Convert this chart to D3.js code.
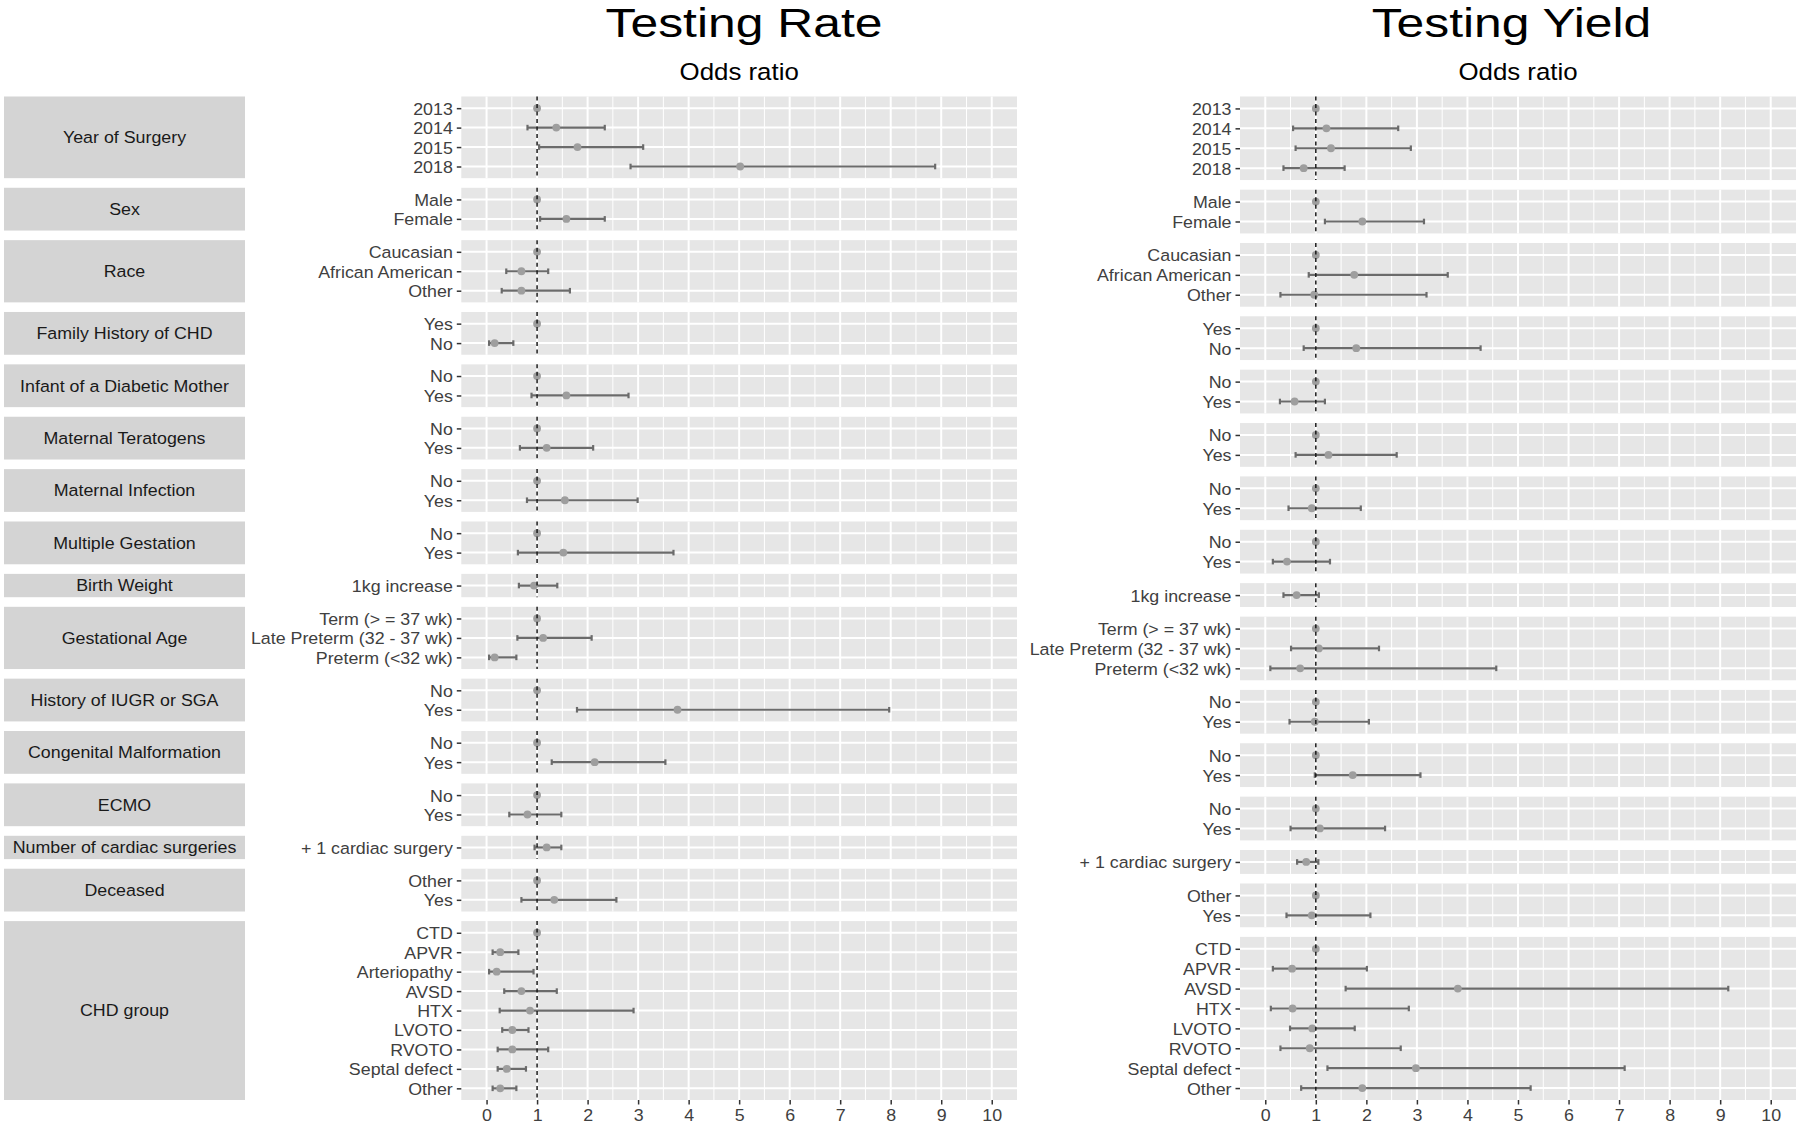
<!DOCTYPE html>
<html>
<head>
<meta charset="utf-8">
<script src="https://cdn.jsdelivr.net/npm/d3@7"></script>
<style>
  html, body { margin: 0; padding: 0; background: #ffffff; }
  svg { display: block; font-family: "Liberation Sans", Arial, Helvetica, sans-serif; }
</style>
</head>
<body>
<svg id="chart" width="1800" height="1127"></svg>
<script>
// ---------- DATA ----------
const facetNames = ["Year of Surgery", "Sex", "Race", "Family History of CHD",
  "Infant of a Diabetic Mother", "Maternal Teratogens", "Maternal Infection",
  "Multiple Gestation", "Birth Weight", "Gestational Age", "History of IUGR or SGA",
  "Congenital Malformation", "ECMO", "Number of cardiac surgeries", "Deceased", "CHD group"];

const xTicks = [0, 1, 2, 3, 4, 5, 6, 7, 8, 9, 10];

// Testing Rate
const rateLabels = ["2013", "2014", "2015", "2018", "Male", "Female",
  "Caucasian", "African American", "Other", "Yes", "No", "No", "Yes", "No", "Yes",
  "No", "Yes", "No", "Yes", "1kg increase",
  "Term (> = 37 wk)", "Late Preterm (32 - 37 wk)", "Preterm (<32 wk)",
  "No", "Yes", "No", "Yes", "No", "Yes", "+ 1 cardiac surgery", "Other", "Yes",
  "CTD", "APVR", "Arteriopathy", "AVSD", "HTX", "LVOTO", "RVOTO", "Septal defect", "Other"];
const rateFacet = [0, 0, 0, 0, 1, 1, 2, 2, 2, 3, 3, 4, 4, 5, 5, 6, 6, 7, 7, 8, 9, 9, 9,
  10, 10, 11, 11, 12, 12, 13, 14, 14, 15, 15, 15, 15, 15, 15, 15, 15, 15];
const rateOR = [1, 1.38, 1.80, 5.02, 1, 1.58, 1, 0.69, 0.69, 1, 0.16, 1, 1.58, 1, 1.19,
  1, 1.55, 1, 1.52, 0.94, 1, 1.12, 0.16, 1, 3.78, 1, 2.14, 1, 0.81, 1.19, 1, 1.34,
  1, 0.27, 0.20, 0.69, 0.86, 0.51, 0.51, 0.40, 0.27];
const rateLow = [null, 0.81, 1.04, 2.85, null, 1.06, null, 0.39, 0.30, null, 0.05, null, 0.89,
  null, 0.66, null, 0.80, null, 0.62, 0.64, null, 0.61, 0.05, null, 1.79, null, 1.29,
  null, 0.45, 0.95, null, 0.69, null, 0.12, 0.05, 0.35, 0.26, 0.31, 0.22, 0.22, 0.12];
const rateHigh = [null, 2.34, 3.10, 8.88, null, 2.34, null, 1.22, 1.65, null, 0.53, null, 2.81,
  null, 2.11, null, 2.99, null, 3.70, 1.40, null, 2.08, 0.59, null, 7.97, null, 3.54,
  null, 1.48, 1.48, null, 2.57, null, 0.63, 0.93, 1.39, 2.91, 0.83, 1.22, 0.78, 0.59];

// Testing Yield
const yieldLabels = ["2013", "2014", "2015", "2018", "Male", "Female",
  "Caucasian", "African American", "Other", "Yes", "No", "No", "Yes", "No", "Yes",
  "No", "Yes", "No", "Yes", "1kg increase",
  "Term (> = 37 wk)", "Late Preterm (32 - 37 wk)", "Preterm (<32 wk)",
  "No", "Yes", "No", "Yes", "No", "Yes", "+ 1 cardiac surgery", "Other", "Yes",
  "CTD", "APVR", "AVSD", "HTX", "LVOTO", "RVOTO", "Septal defect", "Other"];
const yieldFacet = [0, 0, 0, 0, 1, 1, 2, 2, 2, 3, 3, 4, 4, 5, 5, 6, 6, 7, 7, 8, 9, 9, 9,
  10, 10, 11, 11, 12, 12, 13, 14, 14, 15, 15, 15, 15, 15, 15, 15, 15];
const yieldOR = [1, 1.21, 1.30, 0.76, 1, 1.92, 1, 1.76, 0.97, 1, 1.80, 1, 0.58, 1, 1.25,
  1, 0.92, 1, 0.43, 0.62, 1, 1.06, 0.69, 1, 0.98, 1, 1.73, 1, 1.08, 0.81, 1, 0.92,
  1, 0.53, 3.81, 0.54, 0.93, 0.88, 2.98, 1.92];
const yieldLow = [null, 0.55, 0.60, 0.36, null, 1.18, null, 0.86, 0.30, null, 0.76, null, 0.29,
  null, 0.60, null, 0.46, null, 0.15, 0.36, null, 0.51, 0.10, null, 0.48, null, 0.98,
  null, 0.50, 0.63, null, 0.42, null, 0.15, 1.59, 0.11, 0.49, 0.30, 1.23, 0.71];
const yieldHigh = [null, 2.63, 2.88, 1.57, null, 3.14, null, 3.61, 3.19, null, 4.26, null, 1.18,
  null, 2.60, null, 1.89, null, 1.28, 1.06, null, 2.25, 4.57, null, 2.05, null, 3.07,
  null, 2.37, 1.05, null, 2.08, null, 2.01, 9.16, 2.84, 1.77, 2.68, 7.11, 5.25];

// ---------- DRAWING ----------
const svg = d3.select("#chart");
const TEXT_SX = 1.08;
const COL = {
  panel: "#e6e6e6", strip: "#d4d4d4", grid: "#ffffff",
  bar: "#6b6b6b", point: "#9e9e9e", vline: "#1a1a1a",
  axisText: "#404040", stripText: "#1a1a1a", tick: "#333333"
};

function stretchedText(g, x, y, str, size, anchor, sx, color, weight) {
  return g.append("text")
    .attr("transform", `translate(${x},${y}) scale(${sx},1)`)
    .attr("text-anchor", anchor)
    .attr("font-size", size)
    .attr("fill", color)
    .attr("font-weight", weight || "normal")
    .text(str);
}

function drawChart(cfg) {
  const g = svg.append("g");
  const top = 96.5, bottom = 1100, gap = 9.6;
  const nF = facetNames.length;
  const counts = facetNames.map((_, i) => cfg.facet.filter(f => f === i).length);
  const totalUnits = d3.sum(counts, c => c + 0.2);
  const unit = (bottom - top - gap * (nF - 1)) / totalUnits;

  const x = d3.scaleLinear().domain([-0.5, 10.5]).range([cfg.left, cfg.right]);
  const minor = d3.range(0.5, 10.5, 1);

  let cy = top;
  facetNames.forEach((name, fi) => {
    const h = (counts[fi] + 0.2) * unit;
    const y0 = cy, y1 = cy + h;
    cy = y1 + gap;
    const idx = d3.range(cfg.labels.length).filter(i => cfg.facet[i] === fi);
    const y = d3.scalePoint().domain(idx.map(String)).range([y0, y1]).padding(0.6);

    // strip
    if (cfg.strips) {
      g.append("rect").attr("x", 4).attr("y", y0).attr("width", 241).attr("height", h)
        .attr("fill", COL.strip);
      stretchedText(g, 124.5, (y0 + y1) / 2 + 5.9, name, 16.5, "middle", TEXT_SX, COL.stripText);
    }

    // panel background
    g.append("rect").attr("x", cfg.left).attr("y", y0)
      .attr("width", cfg.right - cfg.left).attr("height", h).attr("fill", COL.panel);

    // grid
    const pg = g.append("g");
    pg.selectAll("line.minor").data(minor).join("line")
      .attr("x1", d => x(d)).attr("x2", d => x(d)).attr("y1", y0).attr("y2", y1)
      .attr("stroke", COL.grid).attr("stroke-width", 1);
    pg.selectAll("line.major").data(xTicks).join("line")
      .attr("x1", d => x(d)).attr("x2", d => x(d)).attr("y1", y0).attr("y2", y1)
      .attr("stroke", COL.grid).attr("stroke-width", 2);
    pg.selectAll("line.row").data(idx).join("line")
      .attr("x1", cfg.left).attr("x2", cfg.right)
      .attr("y1", d => y(String(d))).attr("y2", d => y(String(d)))
      .attr("stroke", COL.grid).attr("stroke-width", 2);

    // error bars
    const withCI = idx.filter(i => cfg.low[i] !== null);
    const eb = g.append("g").attr("stroke", COL.bar).attr("stroke-width", 2.2);
    withCI.forEach(i => {
      const yy = y(String(i));
      eb.append("line").attr("x1", x(cfg.low[i])).attr("x2", x(cfg.high[i]))
        .attr("y1", yy).attr("y2", yy);
      [cfg.low[i], cfg.high[i]].forEach(v => {
        eb.append("line").attr("x1", x(v)).attr("x2", x(v))
          .attr("y1", yy - 2.8).attr("y2", yy + 2.8);
      });
    });

    // points
    g.append("g").selectAll("circle").data(idx).join("circle")
      .attr("cx", d => x(cfg.or[d])).attr("cy", d => y(String(d)))
      .attr("r", 3.9).attr("fill", COL.point);

    // dashed reference line at OR = 1
    g.append("line").attr("x1", x(1)).attr("x2", x(1)).attr("y1", y0).attr("y2", y1)
      .attr("stroke", COL.vline).attr("stroke-width", 1.5).attr("stroke-dasharray", "4,3.5");

    // y axis
    const ay = g.append("g").attr("transform", `translate(${cfg.left},0)`)
      .call(d3.axisLeft(y).tickSize(4.5).tickPadding(4).tickFormat(d => cfg.labels[+d]));
    ay.select(".domain").remove();
    ay.selectAll(".tick line").attr("stroke", COL.tick).attr("stroke-width", 1.5);
    ay.selectAll(".tick text")
      .attr("font-size", 16.5).attr("fill", COL.axisText)
      .attr("font-family", '"Liberation Sans", Arial, sans-serif')
      .attr("x", -8.5 / TEXT_SX).attr("dy", "0.36em")
      .attr("transform", `scale(${TEXT_SX},1)`);
  });

  // x axis
  const ax = g.append("g").attr("transform", `translate(0,${bottom})`)
    .call(d3.axisBottom(x).tickValues(xTicks).tickSize(4.5).tickPadding(5).tickFormat(d3.format("d")));
  ax.select(".domain").remove();
  ax.selectAll(".tick line").attr("stroke", COL.tick).attr("stroke-width", 1.5);
  ax.selectAll(".tick text")
    .attr("font-size", 16.5).attr("fill", COL.axisText)
    .attr("font-family", '"Liberation Sans", Arial, sans-serif')
    .attr("transform", `scale(${TEXT_SX},1)`);

  // titles
  stretchedText(g, cfg.titleX, 37, cfg.title, 41, "middle", 1.215, "#000000");
  stretchedText(g, (cfg.left + cfg.right) / 2, 80, "Odds ratio", 23.5, "middle", 1.1, "#000000");
}

drawChart({
  title: "Testing Rate", titleX: 744, left: 461.3, right: 1017, strips: true,
  labels: rateLabels, facet: rateFacet, or: rateOR, low: rateLow, high: rateHigh
});
drawChart({
  title: "Testing Yield", titleX: 1511.5, left: 1240, right: 1796, strips: false,
  labels: yieldLabels, facet: yieldFacet, or: yieldOR, low: yieldLow, high: yieldHigh
});
</script>
</body>
</html>
